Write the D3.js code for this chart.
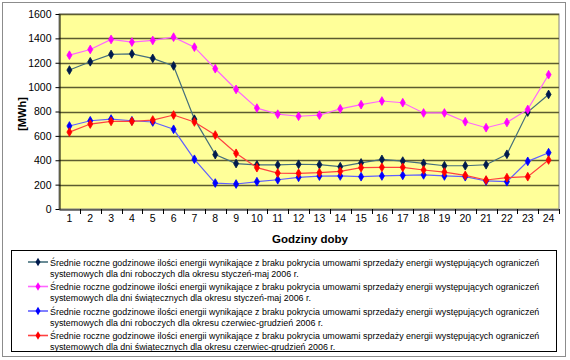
<!DOCTYPE html>
<html><head><meta charset="utf-8">
<script src="https://cdn.jsdelivr.net/npm/d3@7"></script>
<style>body{margin:0;background:#fff}svg{display:block}text{font-family:"Liberation Sans",Arial,sans-serif}</style>
</head><body>
<svg id="c" width="570" height="360"></svg>
<script>
const hours = d3.range(1,25).map(String);
const yTicks = [0,200,400,600,800,1000,1200,1400,1600];
const workJanMay = [1140,1208,1268,1273,1236,1174,737,446,373,362,362,367,364,347,378,407,393,375,355,355,363,449,795,940];
const holJanMay  = [1262,1309,1391,1370,1383,1410,1328,1151,981,828,778,761,770,822,856,886,872,788,788,716,667,710,817,1102];
const workJunDec = [681,724,738,724,714,654,408,213,205,224,240,260,270,271,265,271,276,280,271,265,230,224,391,462];
const holJunDec  = [631,697,719,719,730,771,714,607,457,339,295,293,298,309,339,342,342,320,303,276,238,257,265,402];
const legendLabels = [
 ["Średnie roczne godzinowe ilości energii wynikające z braku pokrycia umowami sprzedaży energii występujących ograniczeń","systemowych dla dni roboczych dla okresu styczeń-maj 2006 r."],
 ["Średnie roczne godzinowe ilości energii wynikające z braku pokrycia umowami sprzedaży energii występujących ograniczeń","systemowych dla dni świątecznych dla okresu styczeń-maj 2006 r."],
 ["Średnie roczne godzinowe ilości energii wynikające z braku pokrycia umowami sprzedaży energii występujących ograniczeń","systemowych dla dni roboczych dla okresu czerwiec-grudzień 2006 r."],
 ["Średnie roczne godzinowe ilości energii wynikające z braku pokrycia umowami sprzedaży energii występujących ograniczeń","systemowych dla dni świątecznych dla okresu czerwiec-grudzień 2006 r."]
];
const series = [
 {values: workJanMay, line:"#456f7c", mark:"#001a4d"},
 {values: holJanMay,  line:"#ff66ff", mark:"#ff00ff"},
 {values: workJunDec, line:"#6060ff", mark:"#0000ff"},
 {values: holJunDec,  line:"#ff4040", mark:"#ff0000"}
];

const svg = d3.select("#c");
svg.append("rect").attr("x",2.5).attr("y",2.5).attr("width",563).attr("height",354)
  .attr("fill","#fff").attr("stroke","#8c8c8c").attr("stroke-width",1);

const L=59, R=559, T=14, B=209;
const x = d3.scaleBand().domain(hours).range([L,R]);
const y = d3.scaleLinear().domain([0,1600]).range([B,T]);

svg.append("rect").attr("x",L).attr("y",T).attr("width",R-L).attr("height",B-T)
  .attr("fill","#ffff99").attr("stroke","#808080");

svg.append("g").selectAll("line").data(yTicks.filter(d=>d>0)).join("line")
  .attr("x1",L).attr("x2",R).attr("y1",d=>Math.round(y(d))+0.5).attr("y2",d=>Math.round(y(d))+0.5)
  .attr("stroke","#5c5c30").attr("stroke-width",1.4);

const ya = svg.append("g").attr("transform",`translate(${L+0.5},0)`)
  .call(d3.axisLeft(y).tickValues(yTicks).tickFormat(d3.format("d")).tickSize(4).tickSizeOuter(0));
ya.select(".domain").attr("stroke","#000");
ya.selectAll("text").attr("font-size",10.5).attr("fill","#000").attr("dx",-1);
const xa = svg.append("g").attr("transform",`translate(0,${B+0.5})`)
  .call(d3.axisBottom(x).tickSize(0).tickSizeOuter(0));
xa.select(".domain").attr("stroke","#000");
xa.selectAll("text").attr("font-size",10.5).attr("fill","#000").attr("dy","0.95em");
svg.append("g").selectAll("line").data(hours.slice(1).concat(["end"])).join("line")
  .attr("x1",d=>Math.round(d==="end"?R:x(d))+0.5).attr("x2",d=>Math.round(d==="end"?R:x(d))+0.5)
  .attr("y1",B).attr("y2",B+5).attr("stroke","#000");

svg.append("text").attr("x",310).attr("y",243).attr("text-anchor","middle")
  .attr("font-size",11.5).attr("font-weight","bold").text("Godziny doby");
svg.append("text").attr("transform","translate(26,114) rotate(-90)").attr("text-anchor","middle")
  .attr("font-size",11).attr("font-weight","bold").text("[MWh]");

const diamond = d3.symbol().type(d3.symbolDiamond).size(22);
const lineGen = d3.line().x((d,i)=>x(hours[i])+x.bandwidth()/2).y(d=>y(d));
series.forEach(s=>{
  svg.append("path").attr("d",lineGen(s.values)).attr("fill","none").attr("stroke",s.line).attr("stroke-width",1.2);
  svg.append("g").selectAll("path").data(s.values).join("path")
    .attr("transform",(d,i)=>`translate(${x(hours[i])+x.bandwidth()/2},${y(d)})`)
    .attr("d",diamond).attr("fill",s.mark).attr("stroke",s.mark).attr("stroke-width",0.8);
});

// legend
svg.append("rect").attr("x",11.5).attr("y",250.5).attr("width",545).attr("height",101)
  .attr("fill","#fff").attr("stroke","#000");
const lg = svg.append("g");
const fs = 9.5;
const targetW = 490;
const texts = [];
series.forEach((s,i)=>{
  const c0 = 262 + i*24.5;
  lg.append("line").attr("x1",28).attr("x2",48).attr("y1",c0).attr("y2",c0).attr("stroke",s.line).attr("stroke-width",1.6);
  lg.append("path").attr("transform",`translate(38,${c0})`).attr("d",diamond).attr("fill",s.mark);
  legendLabels[i].forEach((t,j)=>{
    const g = lg.append("g").attr("transform",`translate(50,${c0+3.5+j*11})`);
    texts.push(g.append("text").attr("x",0).attr("y",0).attr("font-size",fs).attr("fill","#000").text(t));
  });
});
const k = targetW / texts[0].node().getComputedTextLength();
texts.forEach(t=>t.attr("transform",`scale(${k},1)`));
</script>
</body></html>
